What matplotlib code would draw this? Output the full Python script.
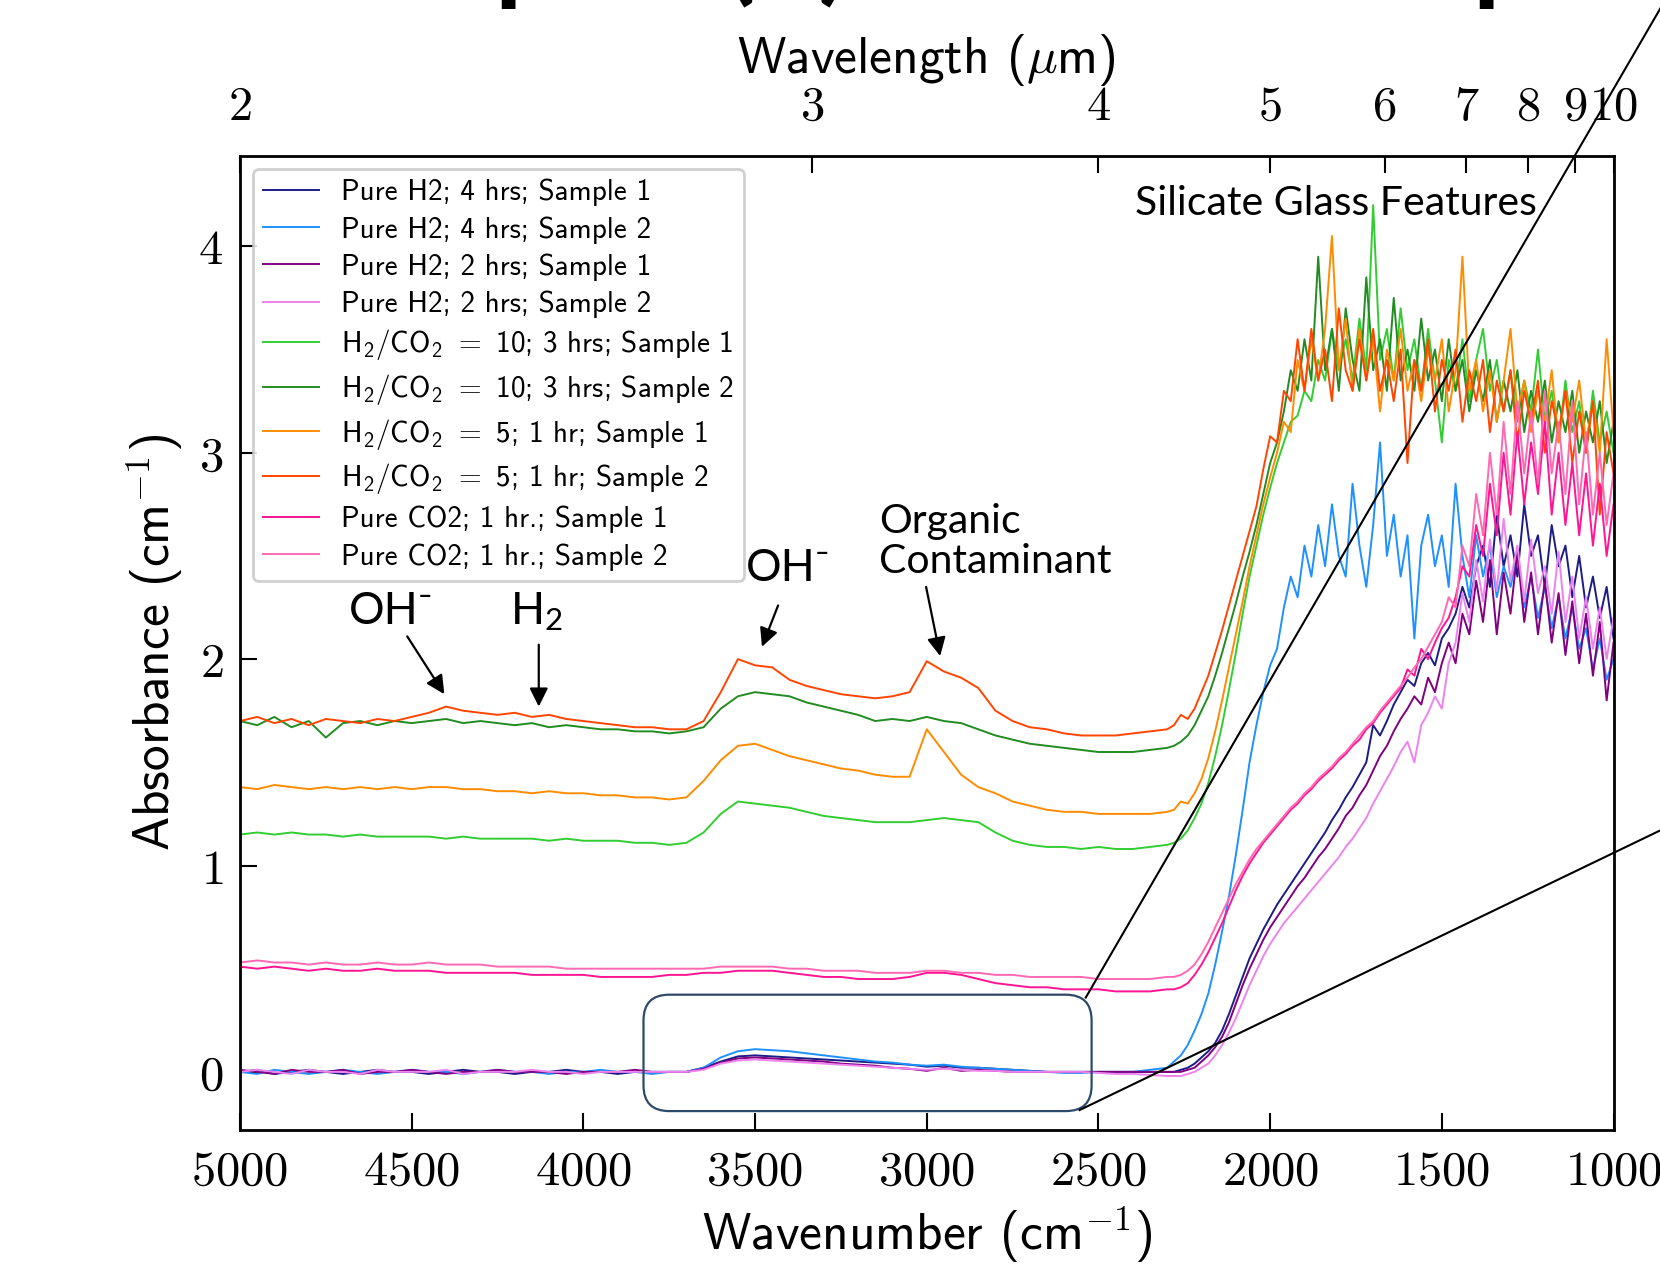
import numpy as np
import matplotlib
matplotlib.use('Agg')
import matplotlib.pyplot as plt
from matplotlib.patches import FancyBboxPatch
from matplotlib.ticker import FuncFormatter, NullLocator

plt.rcParams['mathtext.fontset'] = 'cm'
plt.rcParams['font.family'] = ['Lato', 'DejaVu Sans']
CMSS = ['cmss10', 'DejaVu Sans']

# wavenumber grid: 50 cm-1 over the flat part, 20 cm-1 over the noisy glass band
wn_flat = np.arange(5000, 2299, -50)
wn_glass = np.arange(2280, 999, -20)
wavenumber = np.concatenate([wn_flat, wn_glass])

# absorbance (cm-1), flat part (5000 -> 2300) then glass part (2280 -> 1000)
h2_4h_s1 = [0.00, 0.01, -0.01, 0.00, 0.01, 0.00, -0.01, 0.00, 0.01, 0.00, 0.00, -0.01, 0.00, 0.01,
            0.00, 0.00, -0.01, 0.00, 0.00, 0.01, 0.00, 0.00, -0.01, 0.00, 0.00, 0.00, 0.00,
            0.02, 0.05, 0.075, 0.08, 0.075, 0.07, 0.065, 0.06, 0.055, 0.05, 0.045, 0.04, 0.035, 0.025,
            0.03, 0.02, 0.02, 0.015, 0.01, 0.005, 0.00, 0.00, 0.00, 0.00, 0.00, 0.00, 0.00, 0.00,
            0.00, 0.01, 0.02, 0.04, 0.07, 0.10, 0.14, 0.20, 0.28, 0.37,
            0.46, 0.55, 0.62, 0.69, 0.75, 0.81, 0.86, 0.91, 0.96, 1.01,
            1.06, 1.11, 1.16, 1.22, 1.27, 1.33, 1.38, 1.44, 1.50, 1.68,
            1.63, 1.70, 1.78, 1.84, 1.90, 1.87, 1.98, 2.03, 1.97, 2.10,
            2.15, 2.22, 2.35, 2.25, 2.45, 2.55, 2.35, 2.70, 2.45, 2.60,
            2.40, 2.75, 2.50, 2.60, 2.35, 2.65, 2.45, 2.55, 2.30, 2.50,
            2.25, 2.40, 2.20, 2.35, 2.10]
h2_4h_s2 = [0.00, -0.01, 0.01, 0.00, -0.01, 0.00, 0.01, 0.00, -0.01, 0.00, 0.01, 0.00, 0.00, -0.01,
            0.00, 0.01, 0.00, 0.00, -0.01, 0.00, 0.00, 0.01, 0.00, 0.00, -0.01, 0.00, 0.00,
            0.02, 0.07, 0.10, 0.11, 0.105, 0.10, 0.09, 0.08, 0.07, 0.06, 0.05, 0.045, 0.035, 0.03,
            0.035, 0.025, 0.02, 0.015, 0.01, 0.005, 0.00, -0.005, -0.005, 0.00, 0.00, 0.00, 0.01, 0.02,
            0.05, 0.08, 0.13, 0.20, 0.28, 0.38, 0.52, 0.68, 0.85, 1.05,
            1.27, 1.50, 1.68, 1.84, 1.97, 2.05, 2.25, 2.40, 2.30, 2.55,
            2.40, 2.65, 2.45, 2.75, 2.50, 2.40, 2.85, 2.55, 2.35, 2.65,
            3.05, 2.50, 2.70, 2.40, 2.60, 2.10, 2.55, 2.70, 2.45, 2.60,
            2.35, 2.85, 2.50, 2.30, 2.60, 2.40, 2.55, 2.30, 2.45, 2.35,
            2.50, 2.25, 2.40, 2.20, 2.35, 2.15, 2.30, 2.10, 2.25, 2.05,
            2.15, 1.95, 2.10, 1.90, 2.00]
h2_2h_s1 = [0.01, 0.00, -0.01, 0.01, 0.00, 0.00, 0.01, -0.01, 0.00, 0.00, 0.01, 0.00, -0.01, 0.00,
            0.00, 0.01, 0.00, 0.00, 0.00, -0.01, 0.00, 0.00, 0.00, 0.01, 0.00, 0.00, 0.00,
            0.015, 0.045, 0.065, 0.07, 0.065, 0.06, 0.055, 0.05, 0.04, 0.035, 0.03, 0.02, 0.015, 0.005,
            0.02, 0.005, 0.01, 0.005, 0.00, 0.00, 0.00, 0.00, 0.00, 0.00, 0.00, 0.00, 0.00, 0.00,
            0.00, 0.00, 0.01, 0.02, 0.05, 0.08, 0.12, 0.17, 0.24, 0.33,
            0.42, 0.50, 0.57, 0.64, 0.70, 0.75, 0.80, 0.85, 0.90, 0.94,
            0.99, 1.04, 1.08, 1.13, 1.18, 1.24, 1.28, 1.34, 1.39, 1.46,
            1.53, 1.58, 1.65, 1.71, 1.76, 1.82, 1.78, 1.91, 1.84, 1.98,
            2.08, 1.98, 2.22, 2.12, 2.38, 2.18, 2.48, 2.12, 2.42, 2.22,
            2.52, 2.18, 2.42, 2.12, 2.38, 2.08, 2.32, 2.02, 2.28, 1.98,
            2.22, 1.92, 2.18, 1.80, 2.08]
h2_2h_s2 = [0.00, 0.01, 0.00, -0.01, 0.01, 0.00, 0.00, -0.01, 0.01, 0.00, 0.00, 0.00, 0.01, -0.01,
            0.00, 0.00, 0.00, 0.01, 0.00, 0.00, -0.01, 0.00, 0.00, 0.00, 0.00, 0.00, 0.00,
            0.01, 0.04, 0.055, 0.06, 0.055, 0.05, 0.045, 0.04, 0.035, 0.03, 0.025, 0.02, 0.015, 0.01,
            0.015, 0.01, 0.005, 0.005, 0.00, 0.00, 0.00, 0.00, 0.00, -0.005, -0.01, -0.01, -0.015, -0.02,
            -0.02, -0.02, -0.01, 0.00, 0.02, 0.04, 0.08, 0.13, 0.19, 0.26,
            0.34, 0.42, 0.49, 0.56, 0.62, 0.67, 0.72, 0.76, 0.80, 0.84,
            0.88, 0.92, 0.96, 1.00, 1.04, 1.09, 1.13, 1.18, 1.23, 1.30,
            1.36, 1.42, 1.48, 1.55, 1.60, 1.50, 1.68, 1.74, 1.82, 1.76,
            1.98, 2.08, 2.32, 2.18, 2.48, 2.28, 2.58, 2.33, 2.68, 2.38,
            2.55, 2.28, 2.58, 2.32, 2.45, 2.22, 2.52, 2.18, 2.40, 2.10,
            2.30, 2.05, 2.25, 2.00, 2.20]
mix10_s1 = [1.15, 1.16, 1.15, 1.16, 1.15, 1.15, 1.14, 1.15, 1.14, 1.14, 1.14, 1.14, 1.13, 1.14,
            1.13, 1.13, 1.13, 1.13, 1.12, 1.13, 1.12, 1.12, 1.12, 1.11, 1.11, 1.10, 1.11,
            1.16, 1.25, 1.31, 1.30, 1.29, 1.28, 1.26, 1.24, 1.23, 1.22, 1.21, 1.21, 1.21, 1.22,
            1.23, 1.22, 1.21, 1.16, 1.12, 1.10, 1.09, 1.09, 1.08, 1.09, 1.08, 1.08, 1.09, 1.10,
            1.11, 1.13, 1.17, 1.23, 1.30, 1.40, 1.53, 1.68, 1.85, 2.03,
            2.22, 2.40, 2.55, 2.70, 2.83, 2.95, 3.05, 3.15, 3.18, 3.30,
            3.25, 3.45, 3.35, 3.60, 3.40, 3.55, 3.35, 3.65, 3.40, 4.20,
            3.45, 3.60, 3.35, 3.70, 3.40, 3.55, 3.30, 3.60, 3.35, 3.05,
            3.45, 3.30, 3.55, 3.25, 3.45, 3.60, 3.30, 3.45, 3.20, 3.40,
            3.15, 3.35, 3.20, 3.50, 3.15, 3.30, 3.05, 3.35, 3.10, 3.25,
            3.00, 3.30, 3.05, 3.20, 3.00]
mix10_s2 = [1.70, 1.68, 1.72, 1.67, 1.70, 1.62, 1.69, 1.70, 1.68, 1.70, 1.69, 1.70, 1.71, 1.69,
            1.70, 1.69, 1.68, 1.69, 1.67, 1.68, 1.67, 1.66, 1.66, 1.65, 1.65, 1.64, 1.65,
            1.67, 1.76, 1.82, 1.84, 1.83, 1.82, 1.79, 1.77, 1.75, 1.73, 1.70, 1.71, 1.70, 1.72,
            1.70, 1.69, 1.66, 1.63, 1.61, 1.59, 1.58, 1.57, 1.56, 1.55, 1.55, 1.55, 1.56, 1.57,
            1.58, 1.60, 1.63, 1.68, 1.75, 1.82, 1.92, 2.03, 2.15, 2.27,
            2.40, 2.52, 2.65, 2.80, 2.95, 3.05, 3.20, 3.40, 3.30, 3.55,
            3.35, 3.95, 3.40, 3.60, 3.30, 3.70, 3.45, 3.30, 3.85, 3.40,
            3.55, 3.30, 3.75, 3.35, 3.50, 3.30, 3.65, 3.35, 3.50, 3.25,
            3.55, 3.30, 3.45, 3.20, 3.40, 3.25, 3.45, 3.15, 3.35, 3.20,
            3.40, 3.10, 3.30, 3.15, 3.35, 3.05, 3.25, 3.10, 3.30, 3.00,
            3.20, 3.05, 3.25, 2.95, 3.15]
mix5_s1 = [1.38, 1.37, 1.39, 1.38, 1.37, 1.38, 1.37, 1.38, 1.37, 1.38, 1.37, 1.38, 1.38, 1.37,
           1.37, 1.36, 1.36, 1.35, 1.36, 1.35, 1.35, 1.34, 1.34, 1.33, 1.33, 1.32, 1.33,
           1.41, 1.51, 1.58, 1.59, 1.56, 1.53, 1.51, 1.49, 1.47, 1.46, 1.44, 1.43, 1.43, 1.66,
           1.55, 1.44, 1.38, 1.35, 1.31, 1.29, 1.27, 1.26, 1.26, 1.25, 1.25, 1.25, 1.25, 1.26,
           1.27, 1.31, 1.30, 1.35, 1.42, 1.52, 1.65, 1.80, 1.96, 2.12,
           2.28, 2.45, 2.60, 2.75, 2.88, 3.00, 3.15, 3.10, 3.45, 3.30,
           3.55, 3.35, 3.60, 4.05, 3.40, 3.65, 3.30, 3.60, 3.35, 3.55,
           3.20, 3.50, 3.35, 3.60, 3.30, 3.45, 3.25, 3.50, 3.35, 3.55,
           3.20, 3.40, 3.95, 3.30, 3.45, 3.20, 3.40, 3.15, 3.35, 3.60,
           3.20, 3.35, 3.10, 3.30, 3.15, 3.40, 3.05, 3.30, 3.15, 3.35,
           3.05, 3.25, 3.00, 3.55, 3.10]
mix5_s2 = [1.70, 1.72, 1.69, 1.71, 1.68, 1.71, 1.70, 1.69, 1.71, 1.70, 1.72, 1.74, 1.77, 1.75,
           1.74, 1.73, 1.74, 1.72, 1.73, 1.71, 1.70, 1.69, 1.68, 1.67, 1.67, 1.66, 1.66,
           1.70, 1.84, 2.00, 1.97, 1.96, 1.90, 1.87, 1.85, 1.83, 1.82, 1.81, 1.82, 1.84, 1.99,
           1.94, 1.91, 1.86, 1.75, 1.70, 1.67, 1.66, 1.64, 1.63, 1.63, 1.63, 1.64, 1.65, 1.66,
           1.68, 1.73, 1.71, 1.76, 1.84, 1.92, 2.03, 2.14, 2.26, 2.38,
           2.50, 2.62, 2.74, 2.92, 3.08, 3.05, 3.30, 3.25, 3.55, 3.30,
           3.60, 3.35, 3.50, 3.25, 3.70, 3.40, 3.30, 3.55, 3.35, 3.60,
           3.30, 3.45, 3.25, 3.50, 2.95, 3.45, 3.30, 3.55, 3.20, 3.45,
           3.30, 3.50, 3.15, 3.40, 3.25, 3.45, 3.10, 3.35, 3.20, 3.40,
           3.05, 3.30, 3.15, 3.35, 3.00, 3.25, 3.10, 3.30, 2.95, 3.20,
           3.00, 3.25, 2.70, 3.10, 2.90]
co2_1h_s1 = [0.51, 0.50, 0.51, 0.50, 0.49, 0.50, 0.49, 0.49, 0.50, 0.49, 0.49, 0.49, 0.48, 0.48,
             0.48, 0.48, 0.48, 0.47, 0.47, 0.47, 0.47, 0.46, 0.46, 0.46, 0.46, 0.47, 0.47,
             0.48, 0.48, 0.49, 0.49, 0.49, 0.48, 0.47, 0.46, 0.46, 0.45, 0.45, 0.45, 0.46, 0.48,
             0.48, 0.47, 0.45, 0.43, 0.42, 0.41, 0.41, 0.40, 0.40, 0.40, 0.39, 0.39, 0.39, 0.40,
             0.40, 0.41, 0.43, 0.47, 0.52, 0.58, 0.65, 0.72, 0.80, 0.88,
             0.95, 1.01, 1.06, 1.11, 1.15, 1.19, 1.23, 1.27, 1.30, 1.34,
             1.37, 1.41, 1.44, 1.47, 1.51, 1.54, 1.58, 1.61, 1.66, 1.69,
             1.74, 1.78, 1.82, 1.86, 1.95, 1.92, 2.05, 2.00, 2.08, 2.15,
             2.20, 2.30, 2.45, 2.40, 2.65, 2.50, 2.85, 2.60, 3.00, 2.70,
             3.10, 2.75, 3.05, 2.80, 3.15, 2.70, 3.00, 2.65, 2.95, 2.60,
             2.90, 2.55, 2.85, 2.50, 2.75]
co2_1h_s2 = [0.53, 0.54, 0.53, 0.53, 0.52, 0.53, 0.52, 0.52, 0.53, 0.52, 0.52, 0.53, 0.52, 0.52,
             0.52, 0.51, 0.51, 0.51, 0.51, 0.50, 0.50, 0.50, 0.50, 0.50, 0.50, 0.50, 0.50,
             0.50, 0.51, 0.51, 0.51, 0.51, 0.50, 0.50, 0.49, 0.49, 0.49, 0.48, 0.48, 0.48, 0.49,
             0.49, 0.48, 0.48, 0.47, 0.47, 0.46, 0.46, 0.46, 0.46, 0.45, 0.45, 0.45, 0.45, 0.46,
             0.46, 0.47, 0.49, 0.52, 0.57, 0.63, 0.70, 0.77, 0.84, 0.91,
             0.97, 1.03, 1.08, 1.12, 1.16, 1.20, 1.24, 1.28, 1.31, 1.35,
             1.38, 1.42, 1.45, 1.48, 1.52, 1.55, 1.59, 1.63, 1.67, 1.70,
             1.75, 1.79, 1.83, 1.87, 1.91, 1.96, 2.00, 2.06, 2.12, 2.18,
             2.30, 2.25, 2.55, 2.45, 2.80, 2.60, 3.00, 2.70, 3.15, 2.80,
             3.25, 2.90, 3.20, 2.85, 3.30, 2.90, 3.15, 2.80, 3.25, 2.75,
             3.10, 2.70, 3.00, 2.65, 2.90]

series = [h2_4h_s1, h2_4h_s2, h2_2h_s1, h2_2h_s2, mix10_s1, mix10_s2, mix5_s1, mix5_s2,
          co2_1h_s1, co2_1h_s2]
labels = ['Pure H2; 4 hrs; Sample 1',
          'Pure H2; 4 hrs; Sample 2',
          'Pure H2; 2 hrs; Sample 1',
          'Pure H2; 2 hrs; Sample 2',
          r'H$\mathregular{_2}$/CO$\mathregular{_2}$ $=$ 10; 3 hrs; Sample 1',
          r'H$\mathregular{_2}$/CO$\mathregular{_2}$ $=$ 10; 3 hrs; Sample 2',
          r'H$\mathregular{_2}$/CO$\mathregular{_2}$ $=$ 5; 1 hr; Sample 1',
          r'H$\mathregular{_2}$/CO$\mathregular{_2}$ $=$ 5; 1 hr; Sample 2',
          'Pure CO2; 1 hr.; Sample 1',
          'Pure CO2; 1 hr.; Sample 2']
colors = ['#1c1c86', '#1e90ff', '#800080', '#ee82ee', '#32cd32', '#228b22', '#ff8c00', '#ff4500',
          '#ff1493', '#ff69b4']

wn_ticks = [5000, 4500, 4000, 3500, 3000, 2500, 2000, 1500, 1000]
um_ticks = [2, 3, 4, 5, 6, 7, 8, 9, 10]
abs_ticks = [0, 1, 2, 3, 4]


def wn_to_um(x):
  x = np.asarray(x, dtype=float)
  with np.errstate(divide='ignore', invalid='ignore'):
    return 1e4 / x


def main():
  fig = plt.figure(figsize=(16.6, 12.7), dpi=100)
  ax = fig.add_axes([0.1446, 0.1105, 0.8274, 0.767])

  for ys, lab, col in zip(series, labels, colors):
    ax.plot(wavenumber, ys, color=col, lw=1.4, label=lab)

  ax.set_xlim(5000, 1000)
  ax.set_ylim(-0.28, 4.44)
  ax.set_xticks(wn_ticks)
  ax.set_yticks(abs_ticks)
  texfmt = FuncFormatter(lambda v, p: r'$%d$' % round(v))
  ax.xaxis.set_major_formatter(texfmt)
  ax.yaxis.set_major_formatter(texfmt)
  ax.tick_params(direction='in', length=12, width=1.5, labelsize=35, top=False, right=False)
  ax.tick_params(axis='x', pad=14)
  ax.tick_params(axis='y', pad=12)
  for s in ax.spines.values():
    s.set_linewidth(2)

  ax.set_xlabel(r'Wavenumber (cm$^{-1}$)', fontsize=37, family=CMSS, labelpad=8)
  ax.set_ylabel(r'Absorbance (cm$^{-1}$)', fontsize=37, family=CMSS, labelpad=10)

  # wavelength axis on top
  sec = ax.secondary_xaxis('top', functions=(wn_to_um, wn_to_um))
  sec.set_xticks(um_ticks)
  sec.xaxis.set_minor_locator(NullLocator())
  sec.xaxis.set_major_formatter(texfmt)
  sec.tick_params(direction='in', length=12, width=1.5, labelsize=35, pad=20)
  sec.set_xlabel(r'Wavelength ($\mu$m)', fontsize=37, family=CMSS, labelpad=8)

  leg = ax.legend(loc='upper left', prop={'family': CMSS, 'size': 21}, fancybox=True,
                  framealpha=0.85, edgecolor='#c8c8c8', handlelength=1.9, handletextpad=0.75,
                  labelspacing=0.33, borderpad=0.35, borderaxespad=0.45)
  leg.get_frame().set_linewidth(2)

  # peak labels
  ax.text(1808, 4.21, 'Silicate Glass Features', fontsize=29.5, ha='center', va='center')
  ax.text(3140, 2.57, 'Organic\nContaminant', fontsize=29.5, ha='left', va='center',
          linespacing=1.1)
  ax.text(3402, 2.44, 'OH\u207b', fontsize=32, ha='center', va='center')
  ax.text(4559, 2.23, 'OH\u207b', fontsize=32, ha='center', va='center')
  ax.text(4136, 2.23, r'H$\mathregular{_2}$', fontsize=32, ha='center', va='center')
  arrow = dict(arrowstyle='-|>', color='k', lw=1.6, mutation_scale=28, shrinkA=0, shrinkB=0)
  for tail, head in [((3002, 2.35), (2961, 2.015)), ((3433, 2.26), (3480, 2.06)),
                     ((4513, 2.11), (4405, 1.83)), ((4130, 2.07), (4130, 1.77))]:
    ax.annotate('', xy=head, xytext=tail, arrowprops=arrow)

  # zoom box around the small H2 bands, with connectors to an inset outside the frame
  box = FancyBboxPatch((2520, -0.19), 1305, 0.564,
                       boxstyle='round,pad=0,rounding_size=75', mutation_aspect=0.00166,
                       fc='none', ec='#2e4a6a', lw=1.6, zorder=5)
  ax.add_patch(box)
  ax.plot([2537, 849], [0.36, 5.195], color='k', lw=1.5, clip_on=False, zorder=6)
  ax.plot([2555, 864], [-0.185, 1.17], color='k', lw=1.5, clip_on=False, zorder=6)

  # bottom of the panel title, cut off by the crop
  for x, s in [(0.317, 'p'), (0.474, '(b)'), (0.906, 'p')]:
    fig.text(x, 1.008, s, fontsize=80, fontweight='bold', ha='center', va='baseline')

  fig.savefig('out.png', dpi=100)


if __name__ == '__main__':
  main()
